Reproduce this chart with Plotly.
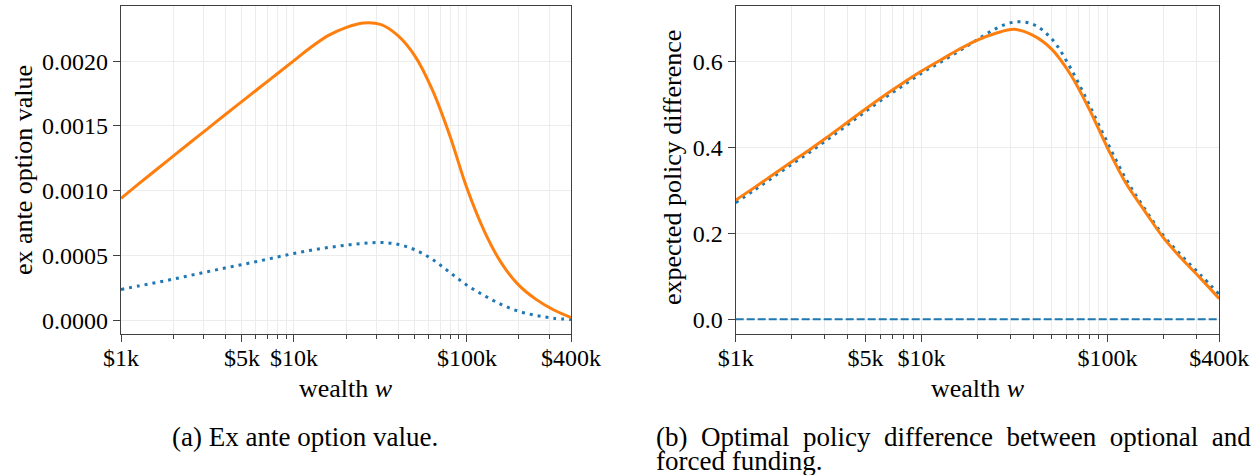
import plotly.graph_objects as go

# ---------------- data ----------------
wealth = [1000, 1259, 1585, 1995, 2512, 3162, 3981, 5012, 6310, 7943,
          10000, 12589, 15849, 19953, 25119, 31623, 39811, 50119, 63096, 79433,
          100000, 125893, 158489, 199526, 251189, 316228, 400000]

# panel (a): ex ante option value
option_value_solid = [0.000940, 0.001050, 0.001158, 0.001265, 0.001372, 0.001478,
                      0.001585, 0.001690, 0.001795, 0.001900, 0.002005, 0.002110,
                      0.002200, 0.002260, 0.002295, 0.002285, 0.002200, 0.002040,
                      0.001780, 0.001430, 0.001020, 0.000690, 0.000440, 0.000270,
                      0.000160, 0.000080, 0.000020]
option_value_dotted = [0.000237, 0.000263, 0.000289, 0.000316, 0.000345, 0.000374,
                       0.000402, 0.000429, 0.000457, 0.000486, 0.000515, 0.000540,
                       0.000561, 0.000579, 0.000593, 0.000600, 0.000586, 0.000543,
                       0.000470, 0.000370, 0.000270, 0.000190, 0.000120, 0.000068,
                       0.000036, 0.000015, 0.000004]

# panel (b): expected policy difference
policy_diff_solid = [0.278, 0.307, 0.337, 0.367, 0.396, 0.427, 0.459, 0.491, 0.522,
                     0.551, 0.579, 0.604, 0.629, 0.651, 0.667, 0.676, 0.662, 0.630,
                     0.572, 0.492, 0.400, 0.317, 0.253, 0.191, 0.141, 0.096, 0.048]
policy_diff_dotted = [0.272, 0.301, 0.331, 0.361, 0.390, 0.421, 0.453, 0.485, 0.516,
                      0.545, 0.574, 0.599, 0.625, 0.652, 0.678, 0.693, 0.688, 0.654,
                      0.587, 0.502, 0.412, 0.327, 0.258, 0.196, 0.148, 0.104, 0.058]
zero_line_x = [1000, 400000]
zero_line_y = [0.0, 0.0]

x_tickvals = [1000, 5000, 10000, 100000, 400000]
x_ticktext = ["$1k", "$5k", "$10k", "$100k", "$400k"]
x_minor = [2000, 3000, 4000, 5000, 6000, 7000, 8000, 9000,
           20000, 30000, 40000, 50000, 60000, 70000, 80000, 90000,
           200000, 300000]
ya_tickvals = [0.0, 0.0005, 0.0010, 0.0015, 0.0020]
yb_tickvals = [0.0, 0.2, 0.4, 0.6]

ORANGE = "#ff7f0e"
BLUE = "#1f77b4"
FONT = "Liberation Serif"
W, H = 1255, 475

fig = go.Figure()

SM = 1.0
fig.add_trace(go.Scatter(x=wealth, y=option_value_dotted, mode="lines",
                         line=dict(color=BLUE, width=3, dash="3px,5px", shape="spline", smoothing=SM),
                         xaxis="x", yaxis="y", showlegend=False))
fig.add_trace(go.Scatter(x=wealth, y=option_value_solid, mode="lines",
                         line=dict(color=ORANGE, width=3, shape="spline", smoothing=SM),
                         xaxis="x", yaxis="y", showlegend=False))

fig.add_trace(go.Scatter(x=zero_line_x, y=zero_line_y, mode="lines",
                         line=dict(color=BLUE, width=2, dash="8px,3px"),
                         xaxis="x2", yaxis="y2", showlegend=False))
fig.add_trace(go.Scatter(x=wealth, y=policy_diff_dotted, mode="lines",
                         line=dict(color=BLUE, width=3, dash="3px,5px", shape="spline", smoothing=SM),
                         xaxis="x2", yaxis="y2", showlegend=False))
fig.add_trace(go.Scatter(x=wealth, y=policy_diff_solid, mode="lines",
                         line=dict(color=ORANGE, width=3, shape="spline", smoothing=SM),
                         xaxis="x2", yaxis="y2", showlegend=False))

SPINE = "#404040"
GRID = "#ececec"
TICKSIZE = 24


def xaxis_cfg(dom, anchor):
    return dict(
        type="log", domain=dom, anchor=anchor,
        range=[3, 5.60206],
        tickmode="array", tickvals=x_tickvals, ticktext=x_ticktext,
        ticks="outside", ticklen=7, tickwidth=1.2, tickcolor=SPINE,
        showline=True, linecolor=SPINE, linewidth=1.2, mirror=True,
        showgrid=True, gridcolor=GRID, gridwidth=1,
        minor=dict(tickmode="array", tickvals=x_minor, ticks="outside", ticklen=4,
                   tickwidth=1, tickcolor=SPINE, showgrid=True, gridcolor=GRID, gridwidth=1),
        tickfont=dict(family=FONT, size=TICKSIZE, color="black"),
        ticklabelstandoff=-5,
        zeroline=False, automargin=False,
    )


def yaxis_cfg(dom, anchor, rng, tickvals, fmt):
    return dict(
        domain=dom, anchor=anchor, range=rng,
        tickmode="array", tickvals=tickvals, tickformat=fmt,
        ticks="outside", ticklen=7, tickwidth=1.2, tickcolor=SPINE,
        showline=True, linecolor=SPINE, linewidth=1.2, mirror=True,
        showgrid=True, gridcolor=GRID, gridwidth=1,
        tickfont=dict(family=FONT, size=TICKSIZE, color="black"),
        ticklabelstandoff=0,
        zeroline=False, automargin=False,
    )


ydom = [1 - 334 / H, 1 - 6 / H]
fig.update_layout(
    width=W, height=H,
    margin=dict(l=0, r=0, t=0, b=0),
    paper_bgcolor="white", plot_bgcolor="white",
    xaxis=xaxis_cfg([121 / W, 571 / W], "y"),
    yaxis=yaxis_cfg(ydom, "x", [-0.0001074, 0.002427], ya_tickvals, ".4f"),
    xaxis2=xaxis_cfg([735.7 / W, 1219.3 / W], "y2"),
    yaxis2=yaxis_cfg(ydom, "x2", [-0.0343, 0.7305], yb_tickvals, ".1f"),
    font=dict(family=FONT, color="black"),
)


def ann(text, px, py, size, angle=0, xanchor="center"):
    fig.add_annotation(text=text, x=px / W, y=1 - py / H, xref="paper", yref="paper",
                       showarrow=False, textangle=angle, xanchor=xanchor, yanchor="middle",
                       borderpad=0,
                       font=dict(family=FONT, size=size, color="black"))


# axis titles
ann("ex ante option value", 23, 170, 26, angle=-90)
ann("expected policy difference", 672, 168, 26, angle=-90)
ann("wealth <i>w</i>", 346, 388, 26)
ann("wealth <i>w</i>", 977.5, 388, 26)

# captions
ann("(a) Ex ante option value.", 305, 437, 27)
gap = "\u00a0\u00a0"
caption_b_line1 = gap.join(["(b)", "Optimal", "policy", "difference", "between", "optional", "and"])
ann(caption_b_line1, 655, 437, 27, xanchor="left")
ann("forced funding.", 655, 461, 27, xanchor="left")

fig.write_html("out.html", config={"displayModeBar": False},
               post_script="document.body.style.margin='0px';document.body.style.overflow='hidden';")
